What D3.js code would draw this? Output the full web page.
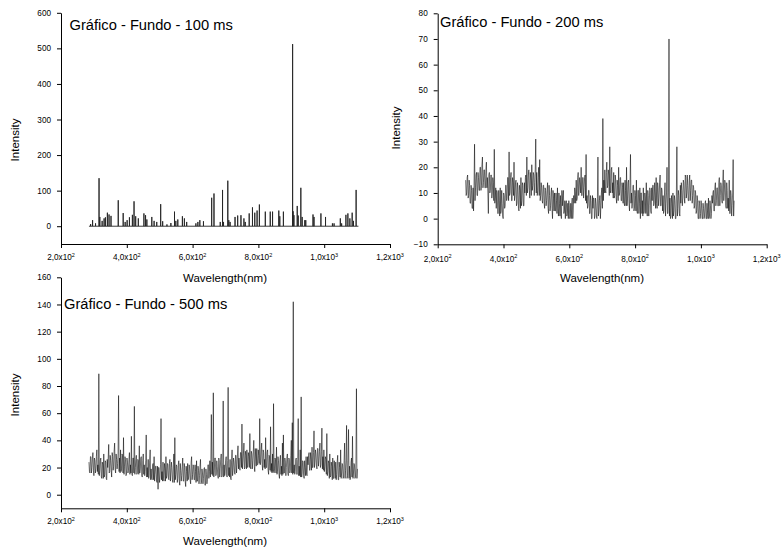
<!DOCTYPE html>
<html><head><meta charset="utf-8">
<script src="https://cdn.jsdelivr.net/npm/d3@7"></script>
<style>
html,body{margin:0;padding:0;background:#fff;}
svg{display:block;font-family:"Liberation Sans",Arial,sans-serif;}
</style></head>
<body><svg id="c" width="781" height="549"></svg>
<script>
// ---- data ----
const xTicks = [200, 400, 600, 800, 1000, 1200];
const xTickLabels = [["2,0x10","2"],["4,0x10","2"],["6,0x10","2"],["8,0x10","2"],["1,0x10","3"],["1,2x10","3"]];
const xMinor = [300, 500, 700, 900, 1100];

const titles = ["Gráfico - Fundo - 100 ms", "Gráfico - Fundo - 200 ms", "Gráfico - Fundo - 500 ms"];

// Panel 1 (100 ms): baseline at 0 with discrete peaks
const p1Range = [285, 1104];
const p1Wave = [290,296,305,315.6,318,325,331,335,341,346,352,374,389,395,401,408,417,422,427,435,452,457,461,476,483,491,503,509,522,534,545,549,555,569,575,582,610,616,622,633,658,665,684,691,694,707,710,714,729,737,747,756,760,772,782,789,796,803,821,836,843,862,865,876,904,905.5,908,918,921,929,933,941,944,966,969,990,1004,1025,1030,1049,1053,1066,1072,1078,1085,1089,1097];
const p1Int  = [6,17,8,135,26,15,22,25,38,33,29,73,37,12,17,25,32,70,28,22,36,31,19,26,15,12,62,14,5,9,41,15,19,28,22,12,8,12,17,14,80,92,12,102,12,128,17,12,26,30,31,22,12,36,53,38,44,61,41,41,41,44,28,41,512,42,31,57,30,108,26,17,17,33,26,36,26,8,8,22,8,32,36,22,38,15,102];

// Panel 2 (200 ms): samples A at 285 + 3i nm, samples B at 286.5 + 3i nm
const p2Start = 285, p2Step = 3;
const p2IntA = [
15,10,17,9,13,6,11,4,3,29,
12,18,9,16,11,20,13,24,14,19,
12,22,16,2,18,11,17,10,14,27,
8,4,10,2,7,12,3,6,0,9,
5,13,8,16,26,10,18,7,14,22,
9,15,6,12,3,11,16,7,13,5,
10,17,24,12,19,8,15,21,13,17,
14,31,18,11,20,23,9,12,6,13,
4,11,7,14,2,9,5,12,0,8,
10,3,7,12,1,6,9,0,5,11,
3,0,7,2,0,5,1,0,8,3,
6,10,15,8,18,11,14,20,9,16,
12,17,25,9,5,11,2,7,0,4,
8,1,6,0,24,3,9,5,12,39,
15,19,10,22,13,17,28,11,20,14,
18,9,15,6,13,20,10,16,7,12,
14,5,11,20,8,15,3,25,10,6,
13,4,9,15,2,11,6,0,10,7,
12,3,8,14,1,9,5,11,2,7,
13,6,10,16,4,12,8,17,5,11,
9,3,14,6,20,2,70,8,1,6,
10,3,7,0,28,4,9,1,6,11,
8,14,6,16,10,13,7,17,11,15,
9,12,5,10,3,7,0,6,2,5,
0,4,1,7,0,3,8,1,5,2,
6,11,3,14,7,12,5,16,9,13,
6,19,10,14,4,11,8,15,2,9,
5,23,7];
const p2IntB = [
9,16,8,15,6,13,4,12,13,7,
17,9,18,11,20,11,21,12,19,12,
19,12,10,17,10,17,8,16,7,6,
12,11,2,11,1,2,11,1,10,4,
13,7,16,7,9,16,7,16,9,7,
14,5,14,4,13,4,5,14,5,14,
16,9,10,17,11,18,9,11,18,9,
19,10,9,16,9,7,14,7,13,6,
12,5,11,4,13,3,10,4,11,3,
3,10,2,4,10,1,2,11,9,2,
7,6,1,6,7,0,6,6,0,9,
12,6,7,16,9,16,10,9,16,8,
16,7,6,4,11,2,9,0,9,8,
0,8,1,8,1,7,0,10,4,7,
10,11,18,12,19,9,10,19,10,8,
8,17,8,15,7,9,16,7,14,6,
6,15,5,5,14,6,13,6,4,13,
3,11,3,3,11,2,12,10,2,1,
2,10,2,3,11,1,12,3,12,13,
5,14,4,6,14,5,14,5,12,3,
2,10,1,10,2,10,1,0,9,0,
1,9,0,10,1,11,2,13,14,5,
15,8,17,8,17,7,15,7,15,6,
13,4,11,2,9,0,7,0,7,0,
6,0,6,0,6,0,0,7,0,9,
10,3,12,5,12,5,14,5,14,7,
14,7,15,5,14,4,3,2,11,1,
10,1];

// Panel 3 (500 ms): samples A at 285 + 3i nm, samples B at 286.5 + 3i nm
const p3Start = 285, p3Step = 3;
const p3IntA = [
24,16,28,20,31,14,25,19,33,22,
89,18,27,12,22,30,15,24,11,20,
37,17,25,13,28,21,38,16,26,23,
73,27,33,19,29,42,21,26,15,24,
18,31,22,43,14,27,65,20,29,16,
25,36,19,28,13,30,22,17,44,20,
26,14,33,19,11,23,28,15,21,9,
4,20,13,56,17,24,10,19,28,14,
22,11,26,16,20,9,30,42,15,21,
12,25,7,18,14,27,10,20,6,17,
23,13,19,8,28,15,21,11,17,25,
10,18,14,26,9,16,12,20,7,15,
11,22,17,13,59,24,75,18,27,15,
21,12,25,19,30,14,69,22,16,28,
13,79,20,26,11,33,18,24,15,29,
22,36,27,18,31,52,24,38,20,29,
33,21,28,45,19,30,25,40,17,27,
34,22,29,56,24,38,18,31,26,42,
20,33,15,28,50,23,30,67,19,26,
35,17,25,12,29,21,38,44,16,24,
20,30,14,26,18,40,53,142,22,17,
27,15,56,21,33,72,16,24,12,20,
28,14,22,31,18,26,35,20,47,24,
30,19,34,25,38,22,49,28,33,21,
26,45,17,23,30,14,21,27,12,19,
24,15,29,11,20,33,16,22,13,38,
18,51,14,48,21,12,27,43,16,22,
13,78,19];
const p3IntB = [
17,28,16,27,18,27,16,28,17,15,
14,25,13,24,12,13,25,12,26,27,
16,29,18,31,18,32,19,30,19,30,
17,16,17,30,16,15,28,14,27,16,
26,15,16,15,27,16,15,26,15,26,
15,16,27,14,25,15,14,25,13,13,
12,25,11,12,22,11,10,21,10,21,
20,9,22,11,10,12,23,10,12,23,
12,23,10,24,11,22,9,11,22,9,
22,10,23,10,21,10,23,10,21,10,
11,22,11,24,11,22,11,22,9,10,
21,8,21,8,19,8,19,7,19,8,
22,12,25,26,15,14,13,27,14,25,
14,27,13,26,13,24,13,14,25,14,
25,14,13,12,25,14,27,16,29,16,
30,19,20,31,20,19,30,19,32,19,
20,31,20,21,32,19,32,21,34,21,
22,33,23,22,33,22,33,20,19,20,
31,18,29,18,17,16,17,16,27,16,
15,28,15,26,15,14,15,16,27,14,
27,16,27,16,29,16,15,16,15,26,
15,26,14,14,13,13,25,14,25,14,
15,28,29,18,31,18,20,31,20,33,
21,34,21,32,20,32,19,18,17,28,
15,14,25,12,13,24,11,12,25,12,
11,24,11,24,13,12,23,12,25,12,
25,12,25,12,11,24,13,12,23,12,
24,12];

const p1YTicks = [0,100,200,300,400,500,600];
const p1YMinor = [-50,50,150,250,350,450,550];
const p2YTicks = [-10,0,10,20,30,40,50,60,70,80];
const p2YMinor = [-5,5,15,25,35,45,55,65,75];
const p3YTicks = [0,20,40,60,80,100,120,140,160];
const p3YMinor = [-10,10,30,50,70,90,110,130,150];

// ---- drawing ----
const svg = d3.select("#c");
const FONT = '"Liberation Sans",Arial,sans-serif';

function panel(cfg){
  const g = svg.append("g");
  const x = d3.scaleLinear().domain([200,1200]).range([cfg.x0, cfg.x1]);
  const y = d3.scaleLinear().domain(cfg.yDom).range([cfg.yB, cfg.yT]);

  const line = d3.line().x(d=>x(d[0])).y(d=>y(d[1]));
  g.append("path").datum(cfg.points).attr("d", line)
    .attr("fill","none").attr("stroke", cfg.color).attr("stroke-width", cfg.sw)
    .attr("stroke-linejoin","bevel");

  // x axis
  const xa = g.append("g").attr("transform", `translate(0,${cfg.yB})`);
  xa.call(d3.axisBottom(x).tickValues(xMinor).tickSize(2).tickFormat(""));
  xa.call(d3.axisBottom(x).tickValues(xTicks).tickSize(4).tickSizeOuter(0).tickFormat(""));
  const xl = xa.selectAll(".xlab").data(xTicks).enter().append("text")
    .attr("x", d=>x(d)).attr("y", cfg.xlY).attr("text-anchor","middle")
    .attr("font-size", 8.2).attr("font-family", FONT).attr("fill","#000");
  xl.each(function(d,i){
    const t = d3.select(this);
    t.append("tspan").text(xTickLabels[i][0]);
    t.append("tspan").attr("font-size",5.5).attr("dy",-3.5).text(xTickLabels[i][1]);
  });

  // y axis
  const ya = g.append("g").attr("transform", `translate(${cfg.x0},0)`);
  ya.call(d3.axisLeft(y).tickValues(cfg.yMinor).tickSize(2).tickFormat(""));
  ya.call(d3.axisLeft(y).tickValues(cfg.yTicks).tickSize(4).tickSizeOuter(0).tickPadding(6).tickFormat(d3.format("d")));
  ya.selectAll("text").attr("font-size", 8.2).attr("font-family", FONT);

  g.selectAll(".domain").attr("stroke","#000").attr("stroke-width",1);
  g.selectAll(".tick line").attr("stroke","#000").attr("stroke-width",1);

  // axis titles
  g.append("text").attr("x", cfg.xtX).attr("y", cfg.xtY).attr("text-anchor","middle")
    .attr("font-size", 11.5).attr("font-family", FONT).text("Wavelength(nm)");
  g.append("text").attr("transform", `translate(${cfg.ytX},${cfg.ytY}) rotate(-90)`)
    .attr("text-anchor","middle").attr("font-size", 11.5).attr("font-family", FONT).text("Intensity");

  // panel title
  g.append("text").attr("x", cfg.tX).attr("y", cfg.tY)
    .attr("font-size", 14.7).attr("font-family", FONT).text(cfg.title);
}

// panel 1 points: baseline with vertical peaks
const p1Pts = [[p1Range[0],0]];
p1Wave.forEach((w,i)=>{ p1Pts.push([w,0],[w,p1Int[i]],[w,0]); });
p1Pts.push([p1Range[1],0]);

function interleave(start, step, A, B){
  const pts = [];
  A.forEach((v,i)=>{
    pts.push([start + i*step, v]);
    if (i < B.length) pts.push([start + i*step + step/2, B[i]]);
  });
  return pts;
}
const p2Pts = interleave(p2Start, p2Step, p2IntA, p2IntB);
const p3Pts = interleave(p3Start, p3Step, p3IntA, p3IntB);

panel({x0:61, x1:390, yDom:[-50,600], yB:244, yT:12.8, yTicks:p1YTicks, yMinor:p1YMinor,
  points:p1Pts, sw:0.9, color:"#222", xlY:16, xtX:225, xtY:282, ytX:19, ytY:140, tX:69.5, tY:30, title:titles[0]});
panel({x0:437.7, x1:766.7, yDom:[-10,80], yB:244.3, yT:13.3, yTicks:p2YTicks, yMinor:p2YMinor,
  points:p2Pts, sw:0.55, color:"#000", xlY:17.5, xtX:602, xtY:282, ytX:400, ytY:128, tX:440, tY:27, title:titles[1]});
panel({x0:61, x1:390, yDom:[-10,160], yB:508.3, yT:277.3, yTicks:p3YTicks, yMinor:p3YMinor,
  points:p3Pts, sw:0.55, color:"#000", xlY:16, xtX:225, xtY:545, ytX:19, ytY:395, tX:64, tY:309, title:titles[2]});
</script></body></html>
